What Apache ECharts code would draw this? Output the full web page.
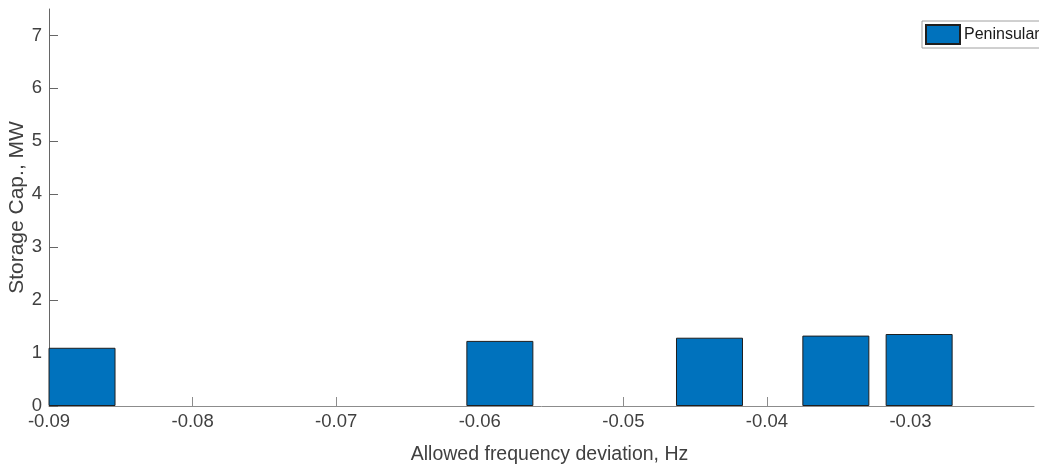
<!DOCTYPE html>
<html><head><meta charset="utf-8">
<script src="https://cdn.jsdelivr.net/npm/echarts@6/dist/echarts.min.js"></script>
<style>html,body{margin:0;padding:0;background:#fff}#c{width:1039px;height:468px}</style>
</head><body><div id="c"></div>
<script>
const deviations = [-0.0877, -0.0586, -0.0440, -0.0352, -0.0294];
const storageCap = [1.10, 1.23, 1.29, 1.33, 1.36];
const xTicks = [-0.09, -0.08, -0.07, -0.06, -0.05, -0.04, -0.03];
const yTicks = [0, 1, 2, 3, 4, 5, 6, 7];
const seriesName = 'Peninsular';

const chart = echarts.init(document.getElementById('c'));
const txt = '#404040';
chart.setOption({
  animation: false,
  grid: {left: 49, right: 5, top: 9, bottom: 62, containLabel: false, outerBoundsMode: 'none'},
  legend: {
    left: 922, top: 21, padding: [3, 6, 3, 3], itemWidth: 34, itemHeight: 19, itemGap: 4,
    icon: 'rect',
    borderColor: '#a0a0a0', borderWidth: 1, backgroundColor: '#fff',
    textStyle: {color: '#1a1a1a', fontSize: 16, fontFamily: 'Liberation Sans', padding: [0,0,0,-1]},
    data: [seriesName]
  },
  xAxis: {
    type: 'value', min: -0.09, max: -0.0214,
    name: 'Allowed frequency deviation, Hz', nameLocation: 'middle', nameGap: 39, nameMoveOverlap: false,
    nameTextStyle: {color: txt, fontSize: 19.5, fontFamily: 'Liberation Sans', padding: [0, 0, 0, 16]},
    axisLine: {show: true, onZero: false, lineStyle: {color: '#8c8c8c', width: 1}},
    axisTick: {show: true, inside: true, length: 9, customValues: xTicks, lineStyle: {color: '#8c8c8c'}},
    axisLabel: {customValues: xTicks, color: txt, fontSize: 18.5, fontFamily: 'Liberation Sans', margin: 6,
      formatter: v => v.toFixed(2)},
    splitLine: {show: false}
  },
  yAxis: {
    type: 'value', min: 0, max: 7.5,
    name: 'Storage Cap., MW', nameLocation: 'middle', nameGap: 21, nameMoveOverlap: false,
    nameTextStyle: {color: txt, fontSize: 21, fontFamily: 'Liberation Sans'},
    axisLine: {show: true, lineStyle: {color: '#666', width: 1}},
    axisTick: {show: true, inside: true, length: 9, customValues: yTicks, lineStyle: {color: '#666'}},
    axisLabel: {customValues: yTicks, color: txt, fontSize: 18.5, fontFamily: 'Liberation Sans', margin: 7},
    splitLine: {show: false}
  },
  series: [{
    name: seriesName, type: 'bar', barWidth: 67,
    itemStyle: {color: '#0072BD', borderColor: '#1f1f1f', borderWidth: 1},
    data: deviations.map((d, i) => [d, storageCap[i]])
  }]
});
</script></body></html>
